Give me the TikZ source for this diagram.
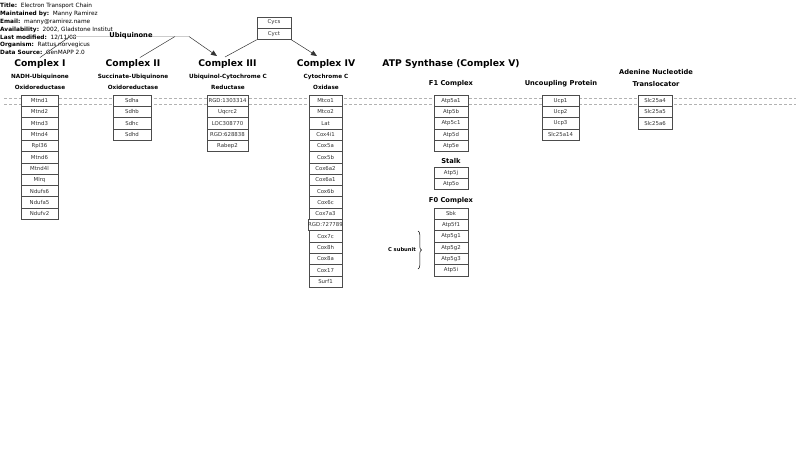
\documentclass[tikz,border=0pt]{standalone}
\usepackage{fontspec}
\setmainfont{DejaVu Sans}
\usetikzlibrary{arrows.meta,decorations.pathreplacing}
\begin{document}
\begin{tikzpicture}[x=1pt,y=-1pt,
  cell/.style={draw=gray!60!black, line width=0.6pt, fill=white, minimum height=11.3pt, inner sep=0pt, font=\fontsize{5.4}{6}\selectfont, text=black!80},
  hdr/.style={anchor=west, inner sep=0pt, font=\fontsize{5.8}{6}\selectfont},
  ttl/.style={inner sep=0pt, font=\fontsize{9.2}{10}\selectfont\bfseries},
  sub/.style={inner sep=0pt, font=\fontsize{5.7}{6}\selectfont\bfseries},
  grp/.style={inner sep=0pt, font=\fontsize{6.7}{7}\selectfont\bfseries},
  link/.style={line width=0.5pt, draw=black!80},
  arr/.style={line width=0.5pt, draw=black!80, -{Triangle[length=6pt,width=5pt]}},
  mem/.style={draw=gray!60, line width=0.5pt, dash pattern=on 3pt off 2pt}]
\path[use as bounding box] (0,0) rectangle (800,451);

% header
\node[hdr] (h1) at (0,6) {\textbf{Title:}\ \ Electron Transport Chain};
\node[hdr] (h2) at (0,14) {\textbf{Maintained by:}\ \ Manny Ramirez};
\node[hdr] (h3) at (0,22) {\textbf{Email:}\ \ manny@ramirez.name};
\node[hdr] (h4) at (0,30) {\textbf{Availability:}\ \ 2002, Gladstone Institut};
\node[hdr] (h5) at (0,37.5) {\textbf{Last modified:}\ \ 12/11/08};
\node[hdr] (h6) at (0,45) {\textbf{Organism:}\ \ Rattus norvegicus};
\node[hdr] (h7) at (0,52.5) {\textbf{Data Source:}\ \ GenMAPP 2.0};

% membrane
\draw[mem] (4,98) -- (796,98);
\draw[mem] (4,104.5) -- (796,104.5);

% ubiquinone
\coordinate (uqL) at (70,36.5);
\coordinate (uqM) at (175,36.5);
\coordinate (uqR) at (189,36.5);
\draw[gray!40, line width=1pt] (uqL) -- (uqR);
\node[grp] (uq) at (131,35.5) {Ubiquinone};

% cytochrome c
\node[cell, minimum width=34pt] (cycs) at (274,22.5) {Cycs};
\node[cell, minimum width=34pt] (cyct) at (274,33.8) {Cyct};

% titles
\node[ttl] (t1) at (40,64) {Complex I};
\node[ttl] (t2) at (133,64) {Complex II};
\node[ttl] (t3) at (227.5,64) {Complex III};
\node[ttl] (t4) at (326,64) {Complex IV};
\node[ttl] (t5) at (451,64) {ATP Synthase (Complex V)};

\node[sub] (s1a) at (40,77) {NADH-Ubiquinone};
\node[sub] (s1b) at (40,87) {Oxidoreductase};
\node[sub] (s2a) at (133,77) {Succinate-Ubiquinone};
\node[sub] (s2b) at (133,87) {Oxidoreductase};
\node[sub] (s3a) at (228,77) {Ubiquinol-Cytochrome C};
\node[sub] (s3b) at (228,87) {Reductase};
\node[sub] (s4a) at (326,77) {Cytochrome C};
\node[sub] (s4b) at (326,87) {Oxidase};

\node[grp] (f1) at (451,83.5) {F1 Complex};
\node[grp] (ucp) at (561,83.5) {Uncoupling Protein};
\node[grp] (ant1) at (656,72) {Adenine Nucleotide};
\node[grp] (ant2) at (656,84) {Translocator};
\node[grp] (stalk) at (451,161) {Stalk};
\node[grp] (f0) at (451,201) {F0 Complex};

% connectors
\coordinate (c1top) at (40,57.5);
\coordinate (c2top) at (140,57.5);
\coordinate (c3in) at (217,56);
\coordinate (c3top) at (225,57);
\coordinate (c4in) at (317,56);
\draw[link] (c1top) -- (uqL);
\draw[link] (c2top) -- (uqM);
\draw[arr] (uqR) -- (c3in);
\draw[link] (c3top) -- (cyct.south west);
\draw[arr] (cyct.south east) -- (c4in);

% columns
\foreach \t [count=\i] in {Mtnd1,Mtnd2,Mtnd3,Mtnd4,Rpl36,Mtnd6,Mtnd4l,Mlrq,Ndufs6,Ndufa5,Ndufv2}
  \node[cell, minimum width=37pt] (a\i) at (39.5,{95+11.3*(\i-0.5)}) {\t};
\foreach \t [count=\i] in {Sdha,Sdhb,Sdhc,Sdhd}
  \node[cell, minimum width=38pt] (b\i) at (132,{95+11.3*(\i-0.5)}) {\t};
\foreach \t [count=\i] in {RGD:1303314,Uqcrc2,LOC308770,RGD:628838,Rabep2}
  \node[cell, minimum width=41pt] (c\i) at (227.5,{95+11.3*(\i-0.5)}) {\t};
\foreach \t [count=\i] in {Mtco1,Mtco2,Lat,Cox4i1,Cox5a,Cox5b,Cox6a2,Cox6a1,Cox6b,Cox6c,Cox7a3,RGD:727789,Cox7c,Cox8h,Cox8a,Cox17,Surf1}
  \node[cell, minimum width=33pt] (d\i) at (325.5,{95+11.3*(\i-0.5)}) {\t};
\foreach \t [count=\i] in {Atp5a1,Atp5b,Atp5c1,Atp5d,Atp5e}
  \node[cell, minimum width=34pt] (e\i) at (451,{95+11.3*(\i-0.5)}) {\t};
\foreach \t [count=\i] in {Atp5j,Atp5o}
  \node[cell, minimum width=34pt] (g\i) at (451,{167+11.3*(\i-0.5)}) {\t};
\foreach \t [count=\i] in {Sbk,Atp5f1,Atp5g1,Atp5g2,Atp5g3,Atp5i}
  \node[cell, minimum width=34pt] (k\i) at (451,{208+11.3*(\i-0.5)}) {\t};
\foreach \t [count=\i] in {Ucp1,Ucp2,Ucp3,Slc25a14}
  \node[cell, minimum width=37pt] (u\i) at (560.5,{95+11.3*(\i-0.5)}) {\t};
\foreach \t [count=\i] in {Slc25a4,Slc25a5,Slc25a6}
  \node[cell, minimum width=34pt] (n\i) at (655,{95+11.3*(\i-0.5)}) {\t};

% C subunit brace
\coordinate (brT) at (418,231);
\coordinate (brB) at (418,269);
\draw[line width=0.5pt, decorate, decoration={brace, amplitude=3.5pt}] (brT) -- (brB);
\node[inner sep=0pt, font=\fontsize{5.2}{6}\selectfont\bfseries] (csub) at (402,249.5) {C subunit};
\end{tikzpicture}
\end{document}
